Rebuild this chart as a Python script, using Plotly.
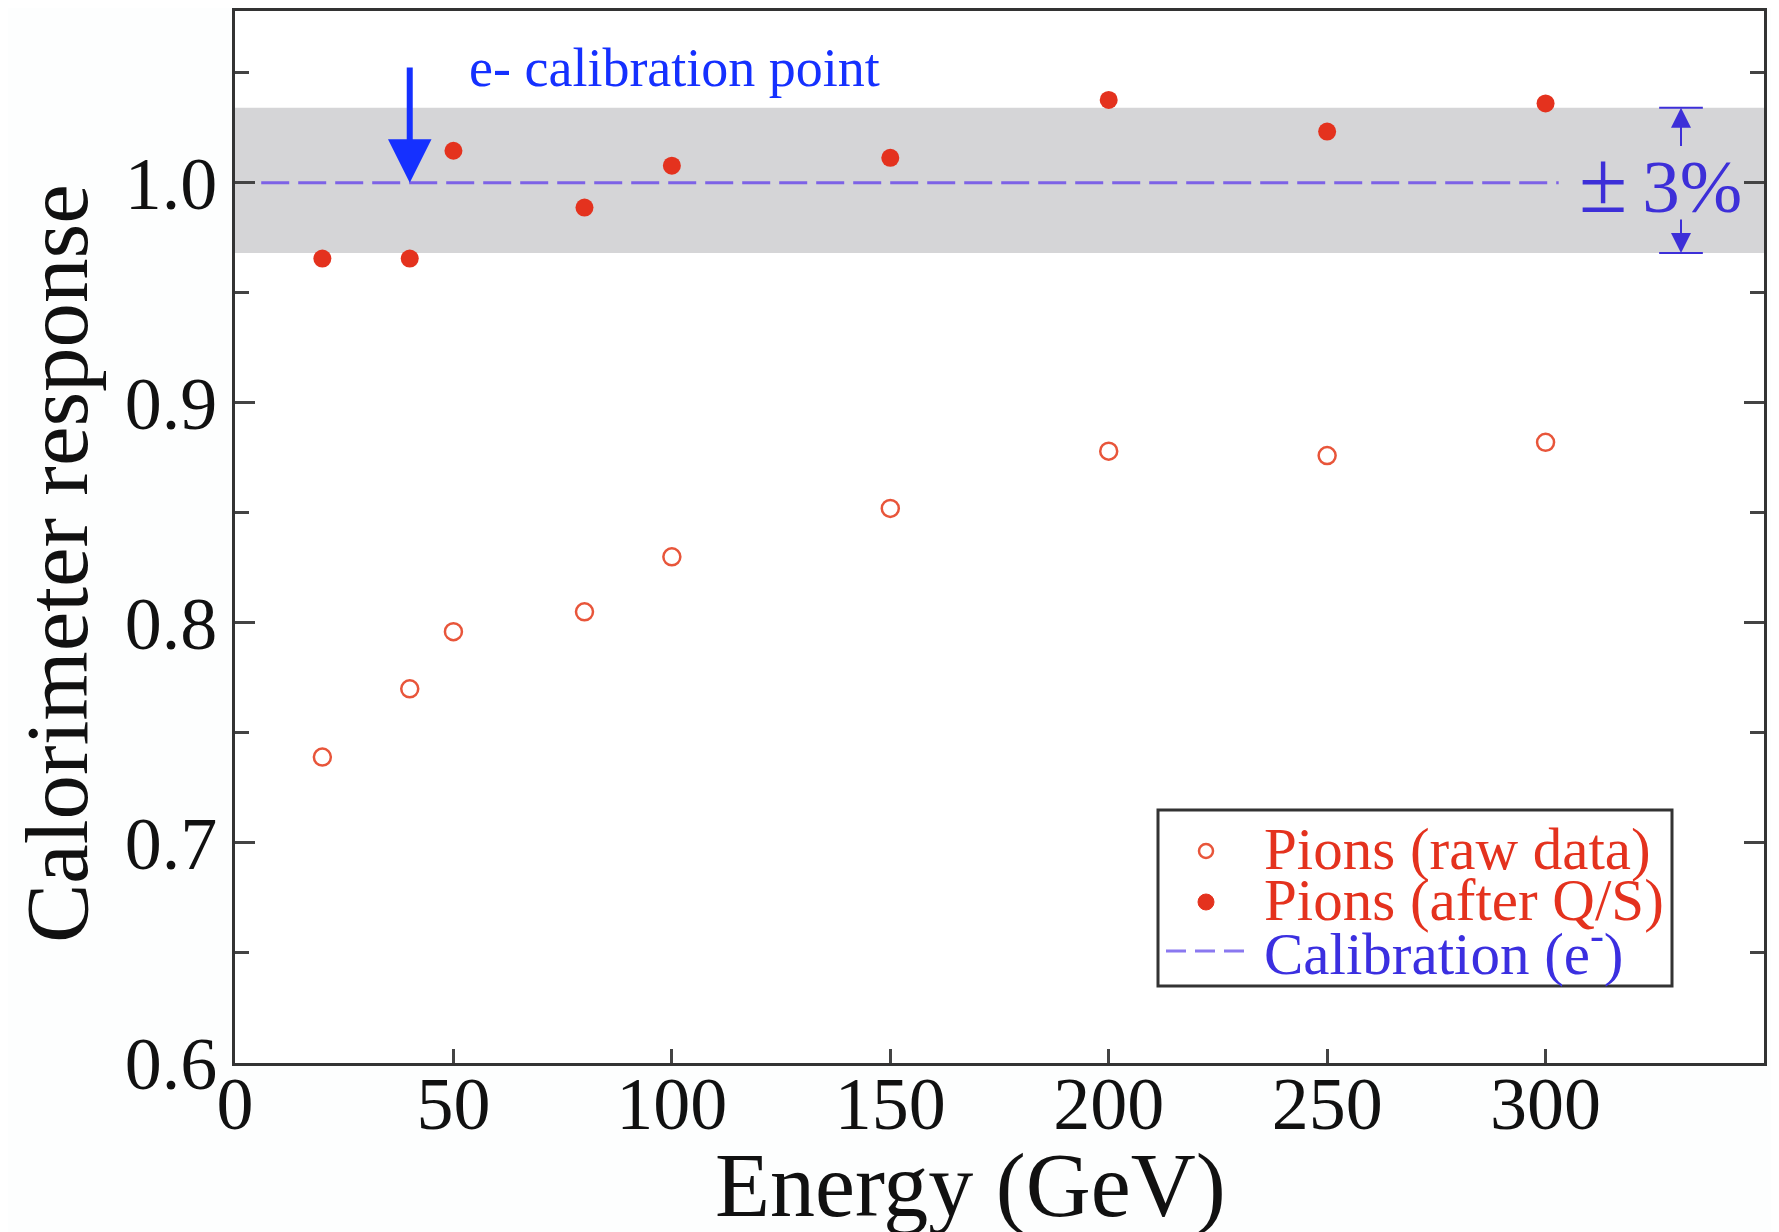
import plotly.graph_objects as go

# ---- data ----
energy = [20, 40, 50, 80, 100, 150, 200, 250, 300]
raw_response = [0.739, 0.770, 0.796, 0.805, 0.830, 0.852, 0.878, 0.876, 0.882]
qs_response = [0.9655, 0.9655, 1.0145, 0.9887, 1.0077, 1.0113, 1.0376, 1.0232, 1.036]
cal_x = [6, 303]
cal_y = [1.0, 1.0]
band_low, band_high = 0.968, 1.034
calib_point_energy = 40
x_ticks = [0, 50, 100, 150, 200, 250, 300]
y_ticks = [0.6, 0.7, 0.8, 0.9, 1.0]
y_tick_labels = ["0.6", "0.7", "0.8", "0.9", "1.0"]
legend_labels = ["Pions (raw data)", "Pions (after Q/S)", "Calibration (e<sup>-</sup>)"]

FONT = "Liberation Serif"
RED = "#e4321e"
RED_OPEN = "#e8553a"
BLUE = "#1530ff"
PURPLE = "#7d62e6"
PCT_BLUE = "#3d2fd8"
LEG_BLUE = "#3b2fe0"
DASH = "28px,9px"

# figure geometry (the page adds an 8px body margin)
FIG_W, FIG_H = 1771, 1224
ML, MR, MT, MB = 227, 15, 3, 169
PW, PH = FIG_W - ML - MR, FIG_H - MT - MB


def px(xp):  # page x pixel -> paper
    return (xp - 8 - ML) / PW


def py(yp):  # page y pixel -> paper
    return 1 - (yp - 8 - MT) / PH


fig = go.Figure()

fig.add_trace(go.Scatter(
    x=energy, y=raw_response, mode="markers", name="Pions (raw data)",
    marker=dict(symbol="circle-open", size=17, color=RED_OPEN, line=dict(width=2.5, color=RED_OPEN)),
))
fig.add_trace(go.Scatter(
    x=energy, y=qs_response, mode="markers", name="Pions (after Q/S)",
    marker=dict(symbol="circle", size=18, color=RED),
))
fig.add_trace(go.Scatter(
    x=cal_x, y=cal_y, mode="lines", name="Calibration (e-)",
    line=dict(color=PURPLE, width=3, dash=DASH),
))

# grey +-3% band
fig.add_shape(type="rect", xref="paper", yref="y", x0=0, x1=1, y0=band_low, y1=band_high,
              fillcolor="#d5d5d7", line=dict(width=0), layer="below")

# e- calibration arrow
fig.add_annotation(x=calib_point_energy, y=1.0, ax=calib_point_energy, ay=1.053,
                   xref="x", yref="y", axref="x", ayref="y", text="",
                   showarrow=True, arrowhead=2, arrowsize=1.45, arrowwidth=6, arrowcolor=BLUE)
fig.add_annotation(x=53, y=1.052, xref="x", yref="y", text="e- calibration point",
                   showarrow=False, xanchor="left", yanchor="middle",
                   font=dict(family=FONT, size=54, color=BLUE))

# +-3% marker
pct_x = 331
fig.add_annotation(x=pct_x, y=band_high, ax=pct_x, ay=1.016, xref="x", yref="y", axref="x", ayref="y",
                   text="", showarrow=True, arrowhead=2, arrowsize=2, arrowwidth=2, arrowcolor=PCT_BLUE)
fig.add_annotation(x=pct_x, y=band_low, ax=pct_x, ay=0.984, xref="x", yref="y", axref="x", ayref="y",
                   text="", showarrow=True, arrowhead=2, arrowsize=2, arrowwidth=2, arrowcolor=PCT_BLUE)
for yy in (band_high, band_low):
    fig.add_shape(type="line", xref="x", yref="y", x0=326, x1=336, y0=yy, y1=yy,
                  line=dict(color=PCT_BLUE, width=2))
fig.add_annotation(x=326.4, y=1.0, xref="x", yref="y",
                   text="<span style='font-size:88px'>±</span>\u20093%", showarrow=False,
                   xanchor="center", yanchor="middle",
                   font=dict(family=FONT, size=75, color=PCT_BLUE))

# ---- legend box drawn to match the reference spacing ----
fig.add_shape(type="rect", xref="paper", yref="paper", x0=px(1158), x1=px(1672), y0=py(986), y1=py(810),
              fillcolor="#ffffff", line=dict(color="#333333", width=3), layer="above")
leg_rows_y = [851, 902, 951]
leg_colors = [RED, RED, LEG_BLUE]
for lbl, yy, col in zip(legend_labels, leg_rows_y, leg_colors):
    fig.add_annotation(x=px(1262), y=py(yy - 2), xref="paper", yref="paper", text=lbl,
                       showarrow=False, xanchor="left", yanchor="middle",
                       font=dict(family=FONT, size=59, color=col))
fig.add_shape(type="circle", xref="paper", yref="paper", xsizemode="pixel", ysizemode="pixel",
              xanchor=px(1206), yanchor=py(leg_rows_y[0]), x0=-7, x1=7, y0=-7, y1=7,
              line=dict(color=RED_OPEN, width=2.5), fillcolor="rgba(0,0,0,0)", layer="above")
fig.add_shape(type="circle", xref="paper", yref="paper", xsizemode="pixel", ysizemode="pixel",
              xanchor=px(1206), yanchor=py(leg_rows_y[1]), x0=-8, x1=8, y0=-8, y1=8,
              line=dict(color=RED, width=1), fillcolor=RED, layer="above")
fig.add_shape(type="line", xref="paper", yref="paper", x0=px(1166), x1=px(1252),
              y0=py(leg_rows_y[2]), y1=py(leg_rows_y[2]),
              line=dict(color="#8a78f0", width=3, dash="20px,9px"), layer="above")

# axis titles
fig.add_annotation(x=px(970), y=py(1186), xref="paper", yref="paper", text="Energy (GeV)",
                   showarrow=False, xanchor="center", yanchor="middle",
                   font=dict(family=FONT, size=90, color="#111111"))
fig.add_annotation(x=px(57), y=py(564), xref="paper", yref="paper", text="Calorimeter response",
                   showarrow=False, xanchor="center", yanchor="middle", textangle=-90,
                   font=dict(family=FONT, size=89, color="#111111"))

fig.update_xaxes(
    range=[0, 350], tickvals=x_ticks, ticktext=[str(v) for v in x_ticks],
    showline=True, linecolor="#333333", linewidth=3, mirror=True,
    ticks="inside", ticklen=14, tickwidth=2.5, tickcolor="#444444",
    showgrid=False, zeroline=False, automargin=False, ticklabelstandoff=-26,
    tickfont=dict(family=FONT, size=74, color="#111111"),
)
fig.update_yaxes(
    range=[0.6, 1.078], tickvals=y_ticks, ticktext=y_tick_labels,
    showline=True, linecolor="#333333", linewidth=3, mirror="allticks",
    ticks="inside", ticklen=20, tickwidth=2.5, tickcolor="#444444",
    minor=dict(dtick=0.05, tick0=0.6, ticks="inside", ticklen=14, tickwidth=2.5, tickcolor="#444444"),
    showgrid=False, zeroline=False, automargin=False,
    tickfont=dict(family=FONT, size=74, color="#111111"),
)

fig.update_layout(
    width=FIG_W, height=FIG_H,
    margin=dict(l=ML, r=MR, t=MT, b=MB),
    paper_bgcolor="#fdfefe", plot_bgcolor="#ffffff",
    font=dict(family=FONT),
    showlegend=False,
)

fig.write_html("out.html")
